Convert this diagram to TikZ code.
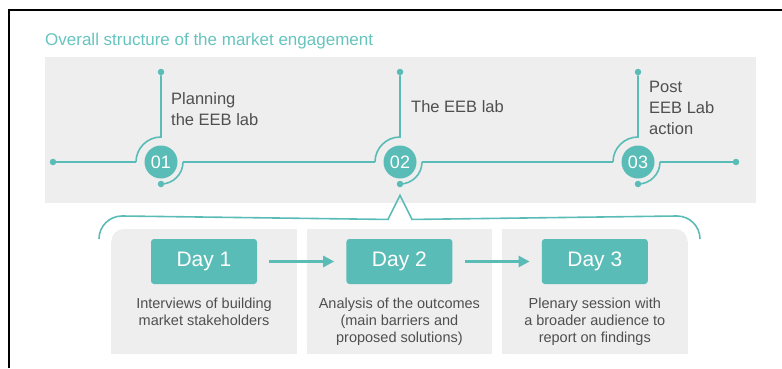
\documentclass[tikz,border=0pt]{standalone}
\usepackage{fontspec}
\setmainfont{Liberation Sans}
\usetikzlibrary{positioning, calc, arrows.meta}

\definecolor{tealmain}{HTML}{5ABCB6}
\definecolor{tealtitle}{HTML}{66C4BE}
\definecolor{bandgray}{HTML}{EEEEEF}
\definecolor{txtgray}{HTML}{4F4F4F}

\begin{document}
\begin{tikzpicture}[x=1pt, y=1pt,
    tl/.style={tealmain, line width=1.6pt},
    dot/.style={circle, fill=tealmain, inner sep=0pt, minimum size=6.5pt},
    milestone/.style={circle, fill=tealmain, text=white, inner sep=0pt, minimum size=33pt, font=\fontsize{18}{18}\selectfont},
    phase/.style={anchor=north west, inner sep=0pt, align=left, text=txtgray, font=\fontsize{16.5}{21}\selectfont},
    panel/.style={rectangle, fill=bandgray, rounded corners=12pt, minimum width=185pt, minimum height=125pt, inner sep=0pt},
    daybox/.style={rectangle, rounded corners=3pt, fill=tealmain, text=white, minimum width=106pt, minimum height=45pt, font=\fontsize{21}{21}\selectfont},
    desc/.style={inner sep=0pt, align=center, text=txtgray, font=\fontsize{14.5}{17}\selectfont}]

    \useasboundingbox (0,0) rectangle (782,368);

    % Draw frame
    \draw[line width=2pt] (9,0) -- (9,358) -- (782,358);

    % Title and gray band
    \node[anchor=base west, inner sep=0pt, text=tealtitle, font=\fontsize{17}{17}\selectfont] (title) at (45,323) {Overall structure of the market engagement};
    \fill[bandgray] (45,165) rectangle (756,311);

    % Timeline end points
    \node[dot] (start) at (53,206) {};
    \node[dot] (end) at (736,206) {};

    % Milestones with their arcs
    \foreach \i/\x in {1/161, 2/400, 3/638} {
      \node[milestone] (m\i) at (\x,206) {0\i};
      \node[dot] (top\i) at (\x,296) {};
      \node[dot] (bot\i) at (\x,184) {};
      \draw[tl] (top\i) -- ($(m\i)+(0,25)$) arc (90:180:25) coordinate (in\i);
      \draw[tl] (bot\i.center) arc (270:360:22) coordinate (out\i);
    }
    \draw[tl] (start) -- (in1) (out1) -- (in2) (out2) -- (in3) (out3) -- (end);

    % Phase names
    \node[phase] (p1) at (171,276) {Planning\\the EEB lab};
    \node[phase] (p2) at (411,268) {The EEB lab};
    \node[phase] (p3) at (649,287) {Post\\EEB Lab\\action};

    % Bracket under the second milestone
    \coordinate[below=8pt of bot2] (apex);
    \draw[tl, line join=miter] (99,129) arc (180:90:23) -- ($(apex)+(-12,-24)$) -- (apex) -- ($(apex)+(12,-24)$) -- (677,152) arc (90:0:23);

    % Day panels
    \node[panel] (box1) at (204,76.5) {};
    \node[panel, right=10pt of box1] (box2) {};
    \node[panel, right=10pt of box2] (box3) {};
    \fill[bandgray] (box1.south west) rectangle ($(box1.north east)+(0,-12)$);
    \fill[bandgray] ($(box1.south west)+(12,0)$) rectangle (box1.north east);
    \fill[bandgray] (box2.south west) rectangle (box2.north east);
    \fill[bandgray] (box3.south west) rectangle ($(box3.north east)+(-12,0)$);
    \fill[bandgray] (box3.south west) rectangle ($(box3.north east)+(0,-12)$);

    \foreach \i/\t in {1/{Interviews of building\\market stakeholders},
                       2/{Analysis of the outcomes\\(main barriers and\\proposed solutions)},
                       3/{Plenary session with\\a broader audience to\\report on findings}} {
      \node[daybox, below=10pt of box\i.north] (day\i) {Day \i};
      \node[desc, below=14pt of day\i.south] (desc\i) {\t};
    }

    % Arrows between days
    \draw[tealmain, line width=2.6pt, -{Triangle[length=11pt, width=11pt]}, shorten <=12pt, shorten >=12pt] (day1) -- (day2);
    \draw[tealmain, line width=2.6pt, -{Triangle[length=11pt, width=11pt]}, shorten <=12pt, shorten >=12pt] (day2) -- (day3);
  \end{tikzpicture}
\end{document}
